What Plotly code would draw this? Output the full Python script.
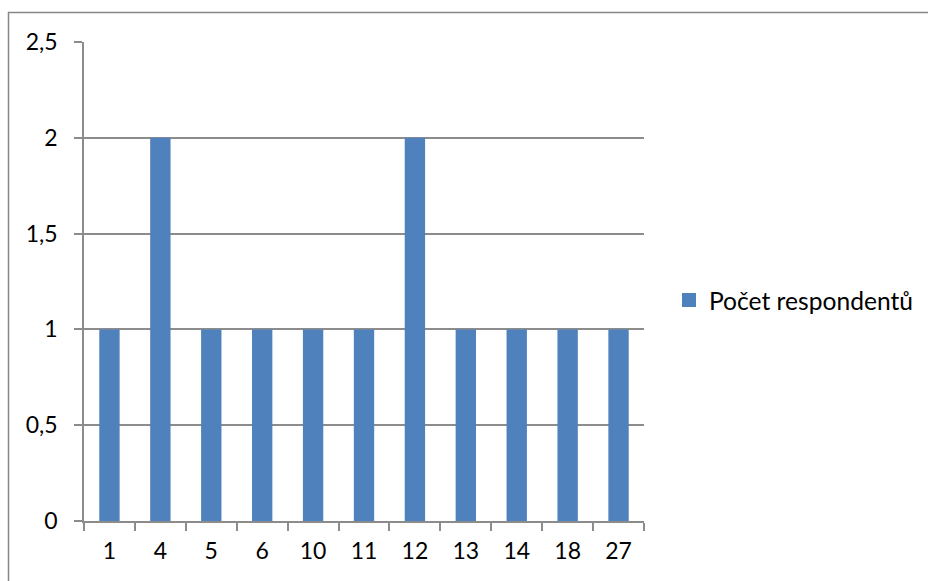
import plotly.graph_objects as go

# Respondent counts per category
categories = ["1", "4", "5", "6", "10", "11", "12", "13", "14", "18", "27"]
counts = [1, 2, 1, 1, 1, 1, 2, 1, 1, 1, 1]
series_name = "Počet respondentů"
y_ticks = [0, 0.5, 1, 1.5, 2, 2.5]

W, H = 928, 581
L, R, T, B = 84, 284, 42, 60
pw, ph = W - L - R, H - T - B
bar_color = "#4F81BD"

fig = go.Figure()
fig.add_trace(go.Bar(
    x=categories,
    y=counts,
    name=series_name,
    marker=dict(color=bar_color, line=dict(width=0)),
    showlegend=False,
))
# legend entry with a larger square key
fig.add_trace(go.Scatter(
    x=[None], y=[None], mode="markers", name=series_name,
    marker=dict(symbol="square", size=14, color=bar_color),
    showlegend=True,
))

font = dict(family="Lato, 'Noto Sans', sans-serif", size=23, color="#000000")
grid = "#8C8C8C"

# outer chart frame (left and top edges)
fx = (8.5 - L) / pw
fy = 1 + (T - 12.5) / ph
fig.add_shape(type="path", xref="paper", yref="paper",
              path=f"M {fx} -0.3 L {fx} {fy} L 1.6 {fy}",
              line=dict(color="#868686", width=1.5))

fig.update_layout(
    width=W, height=H,
    margin=dict(l=L, r=R, t=T, b=B, pad=0, autoexpand=False),
    paper_bgcolor="white", plot_bgcolor="white",
    font=font,
    separators=", ",
    bargap=0.6,
    showlegend=True,
    legend=dict(xref="container", yref="container",
                x=669 / W, y=1 - 300 / H, xanchor="left", yanchor="middle",
                font=dict(family=font["family"], size=24.6, color="#000"),
                bgcolor="rgba(0,0,0,0)", itemwidth=30),
    xaxis=dict(
        type="category",
        showline=True, linecolor=grid, linewidth=1.5,
        ticks="outside", tickson="boundaries", ticklen=8,
        tickcolor=grid, tickwidth=1.5,
        showgrid=False, ticklabelstandoff=9,
    ),
    yaxis=dict(
        range=[0, 2.5], tickvals=y_ticks,
        showline=True, linecolor=grid, linewidth=1.5,
        ticks="outside", ticklen=8, tickcolor=grid, tickwidth=1.5,
        showgrid=True, gridcolor=grid, gridwidth=1.5,
        zeroline=False, ticklabelstandoff=12,
    ),
)

fig.write_html("out.html")
